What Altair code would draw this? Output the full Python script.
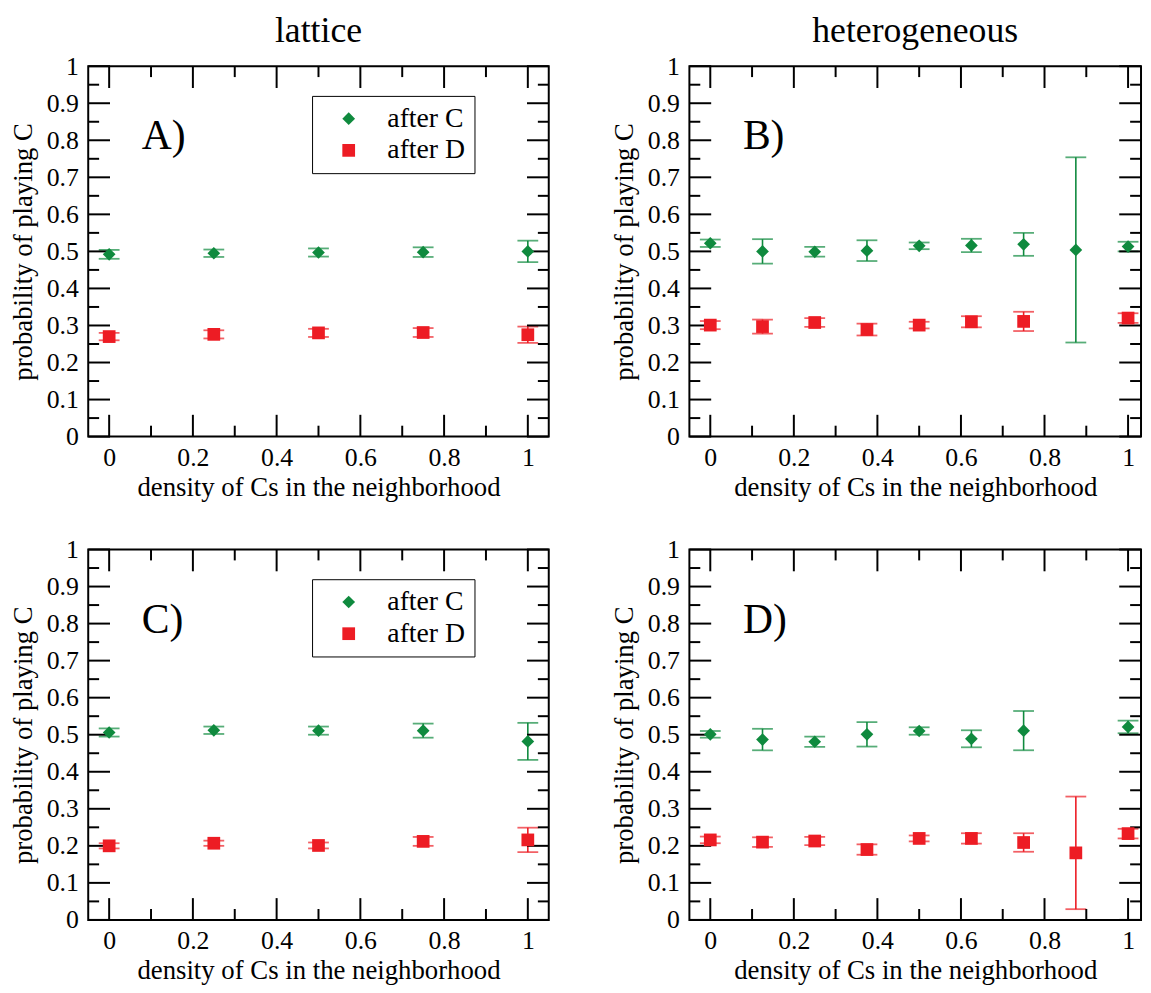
import altair as alt
import pandas as pd

SERIES = ["after C", "after D"]
COLORS = ["#0f8a3e", "#ed1c24"]
SHAPES = ["diamond", "square"]

X_LATTICE = [0, 0.25, 0.5, 0.75, 1]
X_HET = [0, 0.125, 0.25, 0.375, 0.5, 0.625, 0.75, 0.875, 1]

A_C = [0.492, 0.495, 0.497, 0.498, 0.500]
A_C_ERR = [0.012, 0.010, 0.011, 0.013, 0.029]
A_D = [0.270, 0.276, 0.280, 0.281, 0.275]
A_D_ERR = [0.010, 0.011, 0.011, 0.012, 0.022]

B_C = [0.522, 0.500, 0.499, 0.502, 0.515, 0.516, 0.519, 0.504, 0.513]
B_C_ERR = [0.010, 0.033, 0.013, 0.028, 0.009, 0.018, 0.031, 0.250, 0.013]
B_D = [0.301, 0.297, 0.308, 0.289, 0.301, 0.310, 0.311, None, 0.320]
B_D_ERR = [0.011, 0.019, 0.012, 0.016, 0.009, 0.015, 0.026, None, 0.013]

C_C = [0.506, 0.512, 0.511, 0.511, 0.482]
C_C_ERR = [0.011, 0.010, 0.011, 0.019, 0.050]
C_D = [0.200, 0.207, 0.201, 0.212, 0.216]
C_D_ERR = [0.007, 0.007, 0.008, 0.012, 0.033]

D_C = [0.501, 0.487, 0.481, 0.501, 0.510, 0.489, 0.511, None, 0.521]
D_C_ERR = [0.009, 0.029, 0.014, 0.033, 0.010, 0.023, 0.053, None, 0.017]
D_D = [0.216, 0.210, 0.213, 0.190, 0.220, 0.220, 0.209, 0.181, 0.233]
D_D_ERR = [0.009, 0.013, 0.011, 0.014, 0.008, 0.014, 0.025, 0.152, 0.013]

X_TICKS = [0, 0.2, 0.4, 0.6, 0.8, 1]
X_MINOR = [0.1, 0.3, 0.5, 0.7, 0.9]
Y_TICKS = [0, 0.1, 0.2, 0.3, 0.4, 0.5, 0.6, 0.7, 0.8, 0.9, 1]
Y_MINOR = [0.05, 0.15, 0.25, 0.35, 0.45, 0.55, 0.65, 0.75, 0.85, 0.95]

X_TITLE = "density of Cs in the neighborhood"
Y_TITLE = "probability of playing C"

FONT = "Liberation Serif"
H = 374
MAJ, MIN = 22, 11


def build_df(xs, cm, ce, dm, de):
    rows = []
    for name, m, e in ((SERIES[0], cm, ce), (SERIES[1], dm, de)):
        for x, v, s in zip(xs, m, e):
            if v is None:
                continue
            rows.append({"x": x, "y": v, "lo": v - s, "hi": v + s, "series": name})
    return pd.DataFrame(rows)


yscale = alt.Scale(domain=[0, 1], nice=False, zero=False)

xax = alt.Axis(values=X_TICKS, format="~g", ticks=False, domain=False, grid=False,
               labelOverlap=False,
               labelFont=FONT, labelFontSize=26, labelColor="black", labelPadding=8,
               title=X_TITLE, titleFont=FONT, titleFontSize=27, titleFontWeight="normal",
               titleColor="black", titlePadding=4)
yax = alt.Axis(values=Y_TICKS, format="~g", ticks=False, domain=False, grid=False,
               labelOverlap=False,
               labelFont=FONT, labelFontSize=26, labelColor="black", labelPadding=10,
               title=Y_TITLE, titleFont=FONT, titleFontSize=27, titleFontWeight="normal",
               titleColor="black", titlePadding=9)


def panel(xs, cm, ce, dm, de, label, legx, W, xmax, title=None):
    xscale = alt.Scale(domain=[-0.05, xmax], nice=False, zero=False)
    df = build_df(xs, cm, ce, dm, de)
    base = alt.Chart(df)
    X0 = lambda f: alt.X(f, scale=xscale, axis=xax)
    Y0 = lambda f: alt.Y(f, scale=yscale, axis=yax)

    layers = []
    leg = alt.Legend(orient="none", legendX=legx, legendY=30, title=None,
                     strokeColor="black", fillColor="white", padding=9,
                     symbolOffset=14, labelOffset=25, labelFont=FONT, labelFontSize=28,
                     labelColor="black", symbolSize=165, rowPadding=4,
                     symbolStrokeWidth=0)
    pts = base.mark_point(filled=True, size=165, opacity=1).encode(
        x=X0("x:Q"),
        y=Y0("y:Q"),
        color=alt.Color("series:N", scale=alt.Scale(domain=SERIES, range=COLORS), legend=leg),
        shape=alt.Shape("series:N", scale=alt.Scale(domain=SERIES, range=SHAPES), legend=leg),
    )

    for name, col in zip(SERIES, COLORS):
        sub = base.transform_filter(alt.datum.series == name)
        layers.append(sub.mark_rule(color=col, strokeWidth=1.6).encode(
            x=X0("x:Q"), y=Y0("lo:Q"), y2="hi:Q"))
        layers.append(sub.mark_tick(color=col, orient="horizontal", size=21, thickness=1.8).encode(
            x=X0("x:Q"), y=Y0("lo:Q")))
        layers.append(sub.mark_tick(color=col, orient="horizontal", size=21, thickness=1.8).encode(
            x=X0("x:Q"), y=Y0("hi:Q")))

    # inward ticks on all four sides
    xmaj = alt.Chart(pd.DataFrame({"t": X_TICKS}))
    xmin = alt.Chart(pd.DataFrame({"t": X_MINOR}))
    ymaj = alt.Chart(pd.DataFrame({"t": Y_TICKS}))
    ymin = alt.Chart(pd.DataFrame({"t": Y_MINOR}))
    for src, ln in ((xmaj, MAJ), (xmin, MIN)):
        layers.append(src.mark_rule(color="black", strokeWidth=2).encode(
            x=X0("t:Q"), y=alt.value(H), y2=alt.value(H - ln)))
        layers.append(src.mark_rule(color="black", strokeWidth=2).encode(
            x=X0("t:Q"), y=alt.value(0), y2=alt.value(ln)))
    for src, ln in ((ymaj, MAJ), (ymin, MIN)):
        layers.append(src.mark_rule(color="black", strokeWidth=2).encode(
            y=Y0("t:Q"), x=alt.value(0), x2=alt.value(ln)))
        layers.append(src.mark_rule(color="black", strokeWidth=2).encode(
            y=Y0("t:Q"), x=alt.value(W), x2=alt.value(W - ln)))

    lab = alt.Chart(pd.DataFrame({"t": [label]})).mark_text(
        font=FONT, fontSize=42, align="left", baseline="alphabetic", color="black"
    ).encode(text="t:N", x=alt.value(54), y=alt.value(84))
    layers.append(lab)
    layers.append(pts)

    ch = alt.layer(*layers).properties(width=W, height=H)
    if title:
        ch = ch.properties(title=alt.TitleParams(title, font=FONT, fontSize=36, fontWeight="normal",
                                                 color="black", anchor="middle", frame="group",
                                                 offset=3))
    return ch


pA = panel(X_LATTICE, A_C, A_C_ERR, A_D, A_D_ERR, "A)", 226, 465, 1.05, "lattice")
pB = panel(X_HET, B_C, B_C_ERR, B_D, B_D_ERR, "B)", 202, 456, 1.031, "heterogeneous")
pC = panel(X_LATTICE, C_C, C_C_ERR, C_D, C_D_ERR, "C)", 226, 465, 1.05)
pD = panel(X_HET, D_C, D_C_ERR, D_D, D_D_ERR, "D)", 202, 456, 1.031)

top = alt.hconcat(pA, pB, spacing=59)
bottom = alt.hconcat(pC, pD, spacing=59)
chart = alt.vconcat(top, bottom, spacing=35).resolve_legend(
    color="independent", shape="independent"
).properties(padding=0).configure_view(stroke="black", strokeWidth=2).configure_axis(
    labelOverlap=False
)

chart.save("out.html", embed_options={"renderer": "svg", "actions": False})
